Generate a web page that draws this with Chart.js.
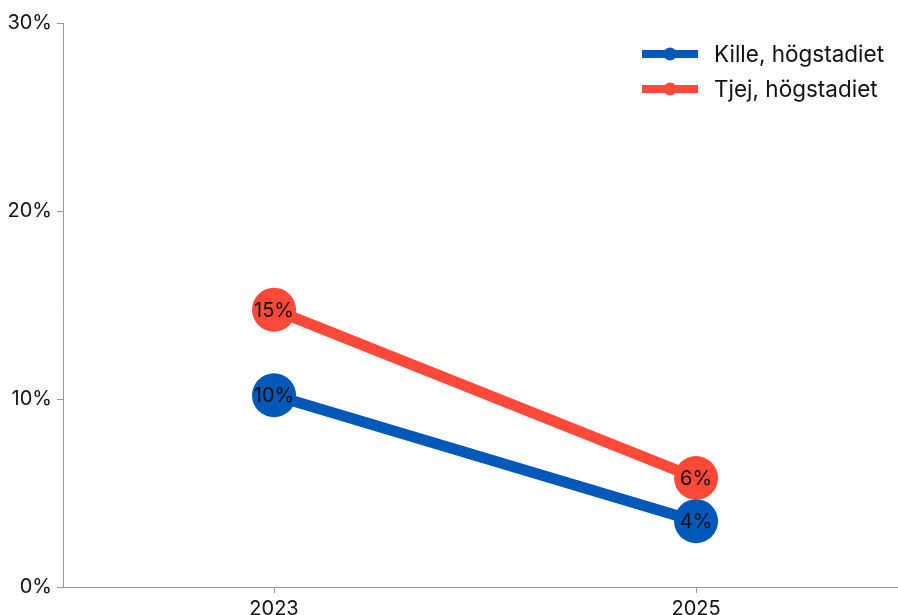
<!DOCTYPE html>
<html>
<head>
<meta charset="utf-8">
<script src="https://cdn.jsdelivr.net/npm/chart.js@4"></script>
<style>
  html, body { margin: 0; padding: 0; background: #fff; }
  #wrap { width: 898px; height: 615px; }
</style>
</head>
<body>
<div id="wrap"><canvas id="myChart"></canvas></div>
<script>
var years = [2023, 2025];
var killeValues = [10.2, 3.5];
var tjejValues = [14.75, 5.8];
var yTicks = [0, 10, 20, 30];

var blue = '#0058B8';
var red = '#FF4A3A';
var fontFamily = 'Inter, "Noto Sans", sans-serif';

function toPoints(values) {
  return years.map(function (yr, i) { return { x: yr, y: values[i] }; });
}

// value labels centred on the points
var pointLabels = {
  id: 'pointLabels',
  afterDatasetsDraw: function (chart) {
    var ctx = chart.ctx;
    ctx.save();
    ctx.font = '20px ' + fontFamily;
    ctx.fillStyle = '#111';
    ctx.textAlign = 'center';
    ctx.textBaseline = 'middle';
    chart.data.datasets.forEach(function (ds, i) {
      chart.getDatasetMeta(i).data.forEach(function (pt, j) {
        ctx.fillText(Math.round(ds.data[j].y) + '%', pt.x, pt.y + 1);
      });
    });
    ctx.restore();
  }
};

// legend drawn inside the plot, top right, stacked
var cornerLegend = {
  id: 'cornerLegend',
  afterDraw: function (chart) {
    var ctx = chart.ctx;
    ctx.save();
    ctx.font = '22.5px ' + fontFamily;
    ctx.textBaseline = 'middle';
    chart.data.datasets.forEach(function (ds, i) {
      var y = 54 + i * 35;
      ctx.strokeStyle = ds.borderColor;
      ctx.lineWidth = 8;
      ctx.beginPath();
      ctx.moveTo(642, y);
      ctx.lineTo(698, y);
      ctx.stroke();
      ctx.fillStyle = ds.borderColor;
      ctx.beginPath();
      ctx.arc(670, y, 6.5, 0, Math.PI * 2);
      ctx.fill();
      ctx.fillStyle = '#111';
      ctx.fillText(ds.label, 714, y + 1);
    });
    ctx.restore();
  }
};

var ctx = document.getElementById('myChart').getContext('2d');
var myChart = new Chart(ctx, {
  type: 'line',
  data: {
    datasets: [
      {
        label: 'Kille, högstadiet',
        data: toPoints(killeValues),
        borderColor: blue,
        backgroundColor: blue,
        borderWidth: 11,
        pointRadius: 22,
        pointHoverRadius: 22,
        pointBorderWidth: 0
      },
      {
        label: 'Tjej, högstadiet',
        data: toPoints(tjejValues),
        borderColor: red,
        backgroundColor: red,
        borderWidth: 11,
        pointRadius: 22,
        pointHoverRadius: 22,
        pointBorderWidth: 0
      }
    ]
  },
  options: {
    responsive: true,
    maintainAspectRatio: false,
    animation: false,
    layout: { autoPadding: false, padding: { top: 23, right: 0, left: 0, bottom: 0 } },
    scales: {
      x: {
        type: 'linear',
        min: 2022,
        max: 2025.957,
        afterBuildTicks: function (scale) {
          scale.ticks = years.map(function (v) { return { value: v }; });
        },
        grid: { display: true, drawOnChartArea: false, color: '#999', tickLength: 6 },
        border: { color: '#999' },
        ticks: {
          color: '#111',
          padding: 4,
          font: { family: fontFamily, size: 20 },
          callback: function (v) { return String(v); }
        },
        afterFit: function (scale) { scale.height = 28; }
      },
      y: {
        min: 0,
        max: 30,
        afterBuildTicks: function (scale) {
          scale.ticks = yTicks.map(function (v) { return { value: v }; });
        },
        grid: { display: true, drawOnChartArea: false, color: '#999', tickLength: 6 },
        border: { color: '#999' },
        ticks: {
          color: '#111',
          padding: 5,
          font: { family: fontFamily, size: 20 },
          callback: function (v) { return v + '%'; }
        },
        afterFit: function (scale) { scale.width = 63; }
      }
    },
    plugins: {
      legend: { display: false },
      tooltip: { enabled: false }
    }
  },
  plugins: [pointLabels, cornerLegend]
});
</script>
</body>
</html>
